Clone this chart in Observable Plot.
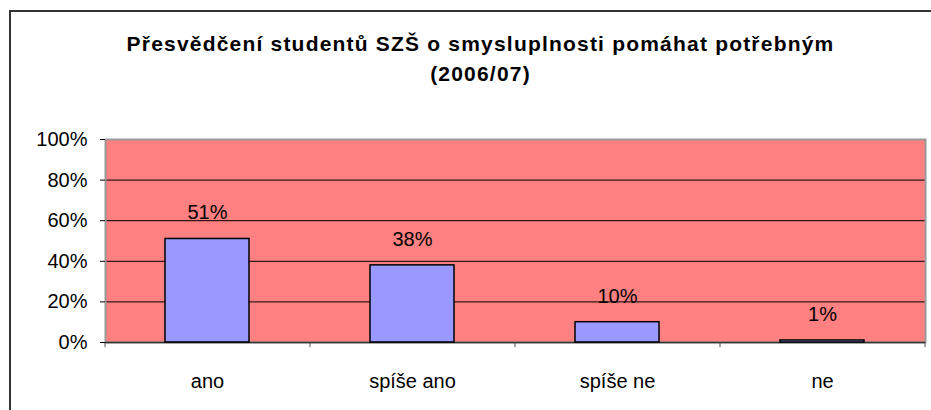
<!DOCTYPE html>
<html>
<head>
<meta charset="utf-8">
<script src="https://cdn.jsdelivr.net/npm/d3@7"></script>
<script src="https://cdn.jsdelivr.net/npm/@observablehq/plot@0.6"></script>
<style>
  html, body { margin: 0; padding: 0; background: #fff; }
  #wrap { position: relative; width: 931px; height: 410px; overflow: hidden; font-family: "Liberation Sans", Arial, sans-serif; }
  #border { position: absolute; left: 9px; top: 10px; width: 940px; height: 420px; border: 2px solid #333; box-sizing: border-box; }
  #title { position: absolute; left: 15px; top: 29px; width: 931px; text-align: center; font-weight: bold; font-size: 21px; letter-spacing: 1.2px; line-height: 30px; color: #000; }
  #chart { position: absolute; left: 0; top: 100px; }
</style>
</head>
<body>
<div id="wrap">
  <div id="border"></div>
  <div id="title">Přesvědčení studentů SZŠ o smysluplnosti pomáhat potřebným<br>(2006/07)</div>
  <div id="chart"></div>
</div>
<script>
const categories = ["ano", "spíše ano", "spíše ne", "ne"];
const values = [0.51, 0.38, 0.10, 0.01];
const valueLabels = ["51%", "38%", "10%", "1%"];
const yTicks = [0, 0.2, 0.4, 0.6, 0.8, 1.0];

const data = categories.map((c, i) => ({category: c, value: values[i], label: valueLabels[i]}));

const W = 931, H = 310;
const mL = 105, mR = 6, mT = 39, mB = 68;
const step = (W - mL - mR) / categories.length;

const chart = Plot.plot({
  width: W,
  height: H,
  marginLeft: mL,
  marginRight: mR,
  marginTop: mT,
  marginBottom: mB,
  style: {fontFamily: "Liberation Sans, Arial, sans-serif", fontSize: "20px", color: "#000", background: "transparent"},
  x: {domain: categories, paddingInner: 0.59, paddingOuter: 0.295, label: null},
  y: {domain: [0, 1], label: null},
  marks: [
    Plot.frame({fill: "#FF8080", stroke: null}),
    Plot.ruleY(yTicks.filter(d => d > 0 && d < 1), {stroke: "#000", strokeWidth: 1}),
    Plot.frame({stroke: "#999", strokeWidth: 2, fill: "none"}),
    Plot.ruleY([0], {stroke: "#333", strokeWidth: 1.5}),
    Plot.ruleX([categories[0]], {y1: 0, y2: -0.025, dx: -step / 2, stroke: "#555"}),
    Plot.ruleX(categories, {y1: 0, y2: -0.025, dx: step / 2, stroke: "#555"}),
    Plot.barY(data, {x: "category", y: "value", fill: "#9999FF", stroke: "#000", strokeWidth: 1.5}),
    Plot.text(data, {x: "category", y: "value", text: "label", dy: -26, fill: "#000", fontSize: 20}),
    Plot.axisY({ticks: yTicks, tickFormat: d3.format(".0%"), tickSize: 5, tickPadding: 13, stroke: "#000", fontSize: 20}),
    Plot.axisX({tickSize: 0, tickPadding: 31, fontSize: 20})
  ]
});
document.getElementById("chart").appendChild(chart);
</script>
</body>
</html>
